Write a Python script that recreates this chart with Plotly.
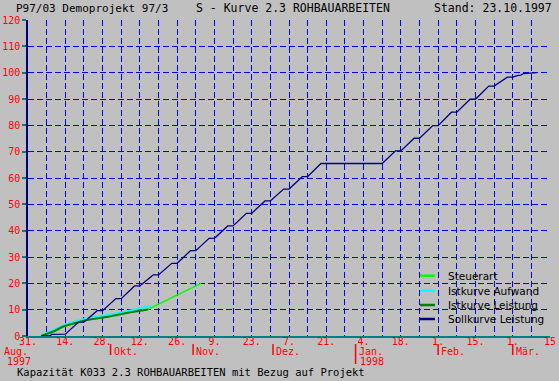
import plotly.graph_objects as go

# ---------------- data ----------------
soll_dates = ["1997-09-05", "1997-09-08", "1997-09-09", "1997-09-14", "1997-09-19", "1997-09-21",
              "1997-09-26", "1997-09-28", "1997-10-03", "1997-10-05", "1997-10-10", "1997-10-12",
              "1997-10-17", "1997-10-19", "1997-10-24", "1997-10-26", "1997-10-31", "1997-11-02",
              "1997-11-07", "1997-11-09", "1997-11-14", "1997-11-16", "1997-11-21", "1997-11-23",
              "1997-11-28", "1997-11-30", "1997-12-05", "1997-12-07", "1997-12-12", "1997-12-14",
              "1997-12-19", "1998-01-11", "1998-01-16", "1998-01-18", "1998-01-23", "1998-01-25",
              "1998-01-30", "1998-02-01", "1998-02-06", "1998-02-08", "1998-02-13", "1998-02-15",
              "1998-02-20", "1998-02-22", "1998-02-27", "1998-03-01", "1998-03-03", "1998-03-04",
              "1998-03-05", "1998-03-10"]
soll_vals = [0, 0, 0.6, 0.7, 5.3, 5.3,
             9.6, 9.6, 14.2, 14.2, 19.0, 19.0,
             23.2, 23.2, 27.6, 27.6, 32.4, 32.4,
             37.1, 37.1, 41.8, 41.8, 46.6, 46.6,
             51.3, 51.3, 55.8, 55.8, 60.5, 60.5,
             65.5, 65.5, 70.3, 70.3, 75.1, 75.1,
             79.9, 79.9, 85.0, 85.0, 89.9, 89.9,
             94.9, 94.9, 98.3, 98.3, 99.0, 99.1,
             99.6, 100]

ist_leist_dates = ["1997-09-05", "1997-09-10", "1997-09-13", "1997-09-15", "1997-09-22",
                   "1997-09-30", "1997-10-08", "1997-10-15"]
ist_leist_vals = [0, 1.9, 3.5, 4.2, 6.1, 7.3, 8.9, 10.1]

ist_aufw_dates = ["1997-09-05", "1997-09-15", "1997-09-22", "1997-10-05", "1997-10-16"]
ist_aufw_vals = [0.3, 4.8, 6.7, 8.9, 11.4]

steuer_dates = ["1997-10-15", "1997-10-26", "1997-11-04"]
steuer_vals = [10.1, 15.6, 20.0]

tick_dates = ["1997-08-31", "1997-09-14", "1997-09-28", "1997-10-12", "1997-10-26", "1997-11-09",
              "1997-11-23", "1997-12-07", "1997-12-21", "1998-01-04", "1998-01-18", "1998-02-01",
              "1998-02-15", "1998-03-01", "1998-03-15"]
tick_labels = ["31.", "14.", "28.", "12.", "26.", "9.", "23.", "7.", "21.", "4.", "18.", "1.",
               "15.", "1.", "15"]

month_starts = ["1997-10-01", "1997-11-01", "1997-12-01", "1998-01-01", "1998-02-01", "1998-03-01"]
month_names = ["Okt.", "Nov.", "Dez.", "Jan.", "Feb.", "Mär."]
month_years = ["", "", "", "1998", "", ""]

legend_names = ["Steuerart", "Istkurve Aufwand", "Istkurve Leistung", "Sollkurve Leistung"]
legend_colors = ["#00FF00", "#00FFFF", "#008000", "#000080"]

# ---------------- layout helpers ----------------
W, H = 559, 381
L, R, T, B = 28, 550, 20, 336
def px_x(p):
    return (p - L) / (R - L)
def px_y(p):
    return (B - p) / (B - T)

MONO = "DejaVu Sans Mono"
SANS = "DejaVu Sans"
RED = "#FF0000"
GRID = "rgb(0,0,255)"
BG = "#C0C0C0"

fig = go.Figure()
fig.add_trace(go.Scatter(x=steuer_dates, y=steuer_vals, mode="lines",
                         line=dict(color=legend_colors[0], width=1.5), name=legend_names[0]))
fig.add_trace(go.Scatter(x=ist_aufw_dates, y=ist_aufw_vals, mode="lines",
                         line=dict(color=legend_colors[1], width=2), name=legend_names[1]))
fig.add_trace(go.Scatter(x=ist_leist_dates, y=ist_leist_vals, mode="lines",
                         line=dict(color=legend_colors[2], width=2), name=legend_names[2]))
fig.add_trace(go.Scatter(x=soll_dates, y=soll_vals, mode="lines",
                         line=dict(color=legend_colors[3], width=1.3), name=legend_names[3]))

annotations = []
shapes = []

def txt(text, x, y, size, color="black", family=MONO, xref="paper", xshift=0):
    annotations.append(dict(text=text, x=x, y=y, xref=xref, yref="paper",
                            xanchor="left", yanchor="middle", showarrow=False, xshift=xshift,
                            font=dict(family=family, size=size, color=color)))

# titles
txt("P97/03 Demoprojekt 97/3", px_x(14), px_y(8), 11)
txt("S - Kurve 2.3 ROHBAUARBEITEN", px_x(194), px_y(8), 11.5)
txt("Stand: 23.10.1997", px_x(432), px_y(8), 11.5)
txt("Kapazität K033 2.3 ROHBAUARBEITEN mit Bezug auf Projekt", px_x(15), px_y(372), 10.5)

# start month label
txt("Aug.", px_x(2), px_y(351.5), 10, RED)
txt("1997", px_x(5), px_y(361), 10, RED)

for d, name, yr in zip(month_starts, month_names, month_years):
    txt(name, d, px_y(351.5), 10, RED, xref="x", xshift=1)
    y_end = 355
    if yr:
        txt(yr, d, px_y(361), 10, RED, xref="x", xshift=2)
        y_end = 364
    shapes.append(dict(type="line", xref="x", yref="paper", x0=d, x1=d, y0=px_y(344), y1=px_y(y_end),
                       line=dict(color=RED, width=1.5)))

# manual legend
row_y = [275.7, 290.7, 305, 319]
for name, col, ry in zip(legend_names, legend_colors, row_y):
    shapes.append(dict(type="line", xref="paper", yref="paper", x0=px_x(420), x1=px_x(435),
                       y0=px_y(ry), y1=px_y(ry), line=dict(color=col, width=2.5)))
    txt(name, px_x(446), px_y(ry), 10.5, family=SANS)

fig.update_layout(
    width=W, height=H, autosize=False,
    margin=dict(l=L, r=W - R, t=T, b=H - B, pad=0),
    paper_bgcolor=BG, plot_bgcolor=BG,
    showlegend=False,
    annotations=annotations, shapes=shapes,
    xaxis=dict(type="date", range=["1997-08-31", "1998-03-15"], automargin=False,
               tickmode="array", tickvals=tick_dates, ticktext=tick_labels,
               tickfont=dict(family=MONO, size=10, color=RED), ticklabelstandoff=-5,
               showgrid=True, gridcolor=GRID, gridwidth=1, griddash="6px,3px",
               minor=dict(dtick=7 * 86400000, tick0="1997-08-31", showgrid=True,
                          gridcolor=GRID, gridwidth=1, griddash="6px,3px"),
               showline=True, linecolor="#008080", linewidth=2, ticks="", zeroline=False,
               layer="above traces"),
    yaxis=dict(range=[0, 120], dtick=10, tick0=0, automargin=False,
               tickfont=dict(family=MONO, size=10, color=RED),
               showgrid=True, gridcolor=GRID, gridwidth=1, griddash="6px,3px",
               minor=dict(showgrid=False),
               showline=True, linecolor="#000080", linewidth=1.5,
               ticks="outside", ticklen=4, tickcolor="#008080", tickwidth=1.5, zeroline=False),
)

fig.write_html("out.html", config={"displayModeBar": False},
               post_script="document.body.style.margin='0px';document.body.style.overflow='hidden';")
